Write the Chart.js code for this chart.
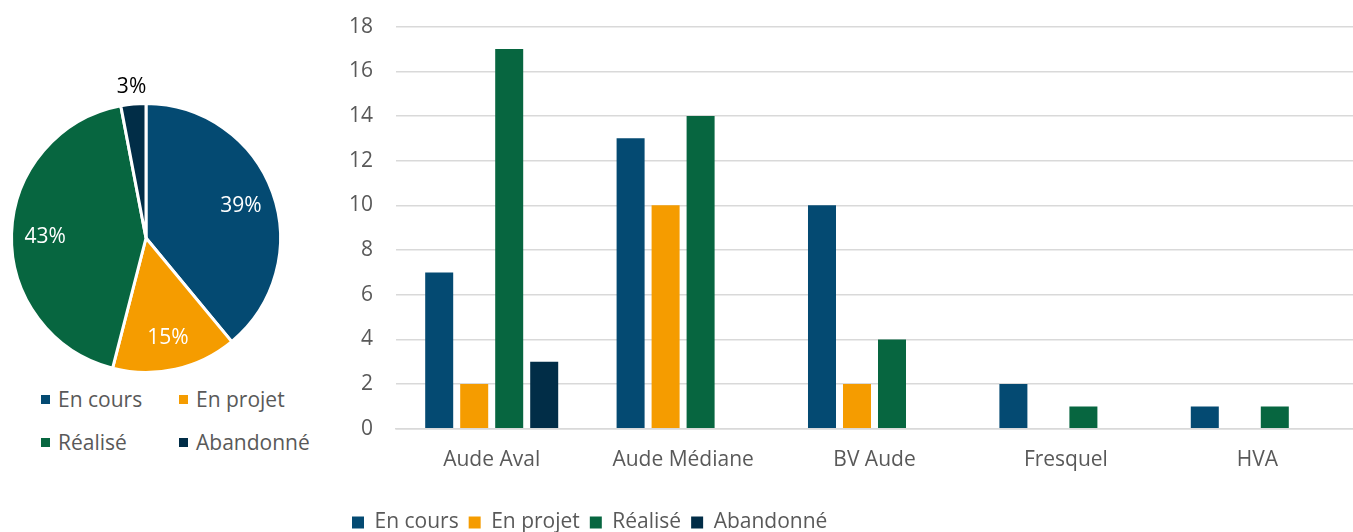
<!DOCTYPE html>
<html lang="fr">
<head>
<meta charset="utf-8">
<title>Actions par bassin</title>
<script src="https://cdn.jsdelivr.net/npm/chart.js@4.4.1/dist/chart.umd.min.js"></script>
<style>
  html, body { margin: 0; padding: 0; background: #fff; }
  body { width: 1353px; height: 532px; position: relative; overflow: hidden; font-family: "Open Sans", sans-serif; }
  #pieBox { position: absolute; left: 0; top: 0; width: 320px; height: 380px; }
  #barBox { position: absolute; left: 342px; top: -9px; width: 1011px; height: 556px; }
  #pieLegend { position: absolute; left: 41px; top: 384px; width: 290px; }
  .row { position: absolute; left: 0; height: 30px; font-size: 21px; color: #595959; white-space: nowrap; }
  .sw { position: absolute; left: 0; top: 11px; width: 9px; height: 9px; }
  .lbl { position: absolute; left: 17px; top: 0; line-height: 30px; }
</style>
</head>
<body>
<div id="pieBox"><canvas id="pie" width="320" height="380"></canvas></div>
<div id="pieLegend"></div>
<div id="barBox"><canvas id="bar" width="1011" height="556"></canvas></div>
<script>
// Statuts des actions et couleurs associées
const statuses = ['En cours', 'En projet', 'Réalisé', 'Abandonné'];
const statusColors = ['#044A72', '#F59C00', '#076640', '#012D47'];

// Répartition globale (en %)
const shareValues = [39, 15, 43, 3];

// Nombre d'actions par bassin
const basins = ['Aude Aval', 'Aude Médiane', 'BV Aude', 'Fresquel', 'HVA'];
const enCours   = [7, 13, 10, 2, 1];
const enProjet  = [2, 10, 2, null, null];
const realise   = [17, 14, 4, 1, 1];
const abandonne = [3, null, null, null, null];

const yTicks = [0, 2, 4, 6, 8, 10, 12, 14, 16, 18];

Chart.defaults.font.family = '"Open Sans", sans-serif';
Chart.defaults.color = '#595959';

// Étiquettes de pourcentage sur les secteurs
const sliceLabels = {
  id: 'sliceLabels',
  afterDatasetsDraw(chart) {
    const ctx = chart.ctx;
    const meta = chart.getDatasetMeta(0);
    ctx.save();
    ctx.font = '21px "Open Sans", sans-serif';
    ctx.textAlign = 'center';
    ctx.textBaseline = 'middle';
    meta.data.forEach((arc, i) => {
      const p = arc.getProps(['x', 'y', 'startAngle', 'endAngle', 'outerRadius']);
      const mid = (p.startAngle + p.endAngle) / 2;
      const value = shareValues[i];
      const outside = value < 5;
      const r = outside ? p.outerRadius + 19 : p.outerRadius * 0.75;
      ctx.fillStyle = outside ? '#000000' : '#FFFFFF';
      ctx.fillText(value + '%', p.x + Math.cos(mid) * r, p.y + Math.sin(mid) * r + 2);
    });
    ctx.restore();
  }
};

new Chart(document.getElementById('pie'), {
  type: 'pie',
  data: {
    labels: statuses,
    datasets: [{
      data: shareValues,
      backgroundColor: statusColors,
      borderColor: '#FFFFFF',
      borderWidth: 3,
      hoverOffset: 0
    }]
  },
  options: {
    responsive: false,
    animation: false,
    events: [],
    layout: { padding: { left: 10, right: 38, top: 102, bottom: 6 } },
    plugins: { legend: { display: false }, tooltip: { enabled: false } }
  },
  plugins: [sliceLabels]
});

// Légende du camembert sur deux colonnes
const legendEl = document.getElementById('pieLegend');
statuses.forEach((name, i) => {
  const row = Math.floor(i / 2), col = i % 2;
  const item = document.createElement('div');
  item.className = 'row';
  item.style.top = (row * 43) + 'px';
  item.style.left = (col * 138) + 'px';
  item.innerHTML = '<span class="sw" style="background:' + statusColors[i] + '"></span><span class="lbl">' + name + '</span>';
  legendEl.appendChild(item);
});

const seriesValues = [enCours, enProjet, realise, abandonne];

new Chart(document.getElementById('bar'), {
  type: 'bar',
  data: {
    labels: basins,
    datasets: statuses.map((name, i) => ({
      label: name,
      data: seriesValues[i],
      backgroundColor: statusColors[i],
      borderWidth: 0,
      categoryPercentage: 0.7315,
      barPercentage: 0.8
    }))
  },
  options: {
    responsive: false,
    animation: false,
    events: [],
    layout: { padding: { left: 0, right: 0, top: 17, bottom: 4 } },
    scales: {
      x: {
        grid: { display: false, drawTicks: false },
        border: { display: true, color: '#D9D9D9', width: 1.5 },
        ticks: { font: { size: 21 }, color: '#595959', padding: 19 },
        afterFit(scale) { scale.height += 10; }
      },
      y: {
        min: 0,
        max: 18,
        afterBuildTicks(scale) { scale.ticks = yTicks.map(v => ({ value: v })); },
        afterFit(scale) { scale.width = 54; },
        grid: { color: '#D9D9D9', lineWidth: 1.5, drawTicks: false },
        border: { display: false },
        ticks: { font: { size: 21 }, color: '#595959', padding: 23 }
      }
    },
    plugins: {
      tooltip: { enabled: false },
      legend: {
        position: 'bottom',
        align: 'start',
        labels: {
          boxWidth: 12,
          boxHeight: 12,
          padding: 10,
          color: '#595959',
          font: { size: 21 }
        }
      }
    }
  }
});
</script>
</body>
</html>
